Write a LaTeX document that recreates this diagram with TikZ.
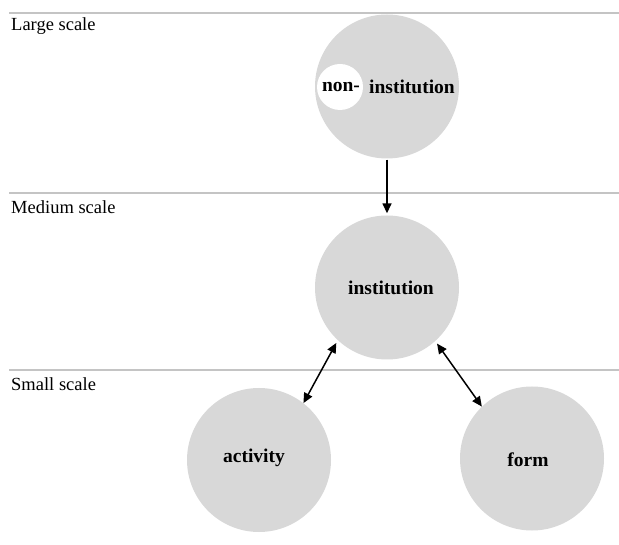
\documentclass[tikz,border=0pt]{standalone}
\usepackage{fontspec}
\setmainfont{Liberation Serif}
\usetikzlibrary{arrows.meta}
\definecolor{circfill}{RGB}{216,216,216}
\definecolor{rulegray}{RGB}{196,196,196}
\tikzset{
  bigcirc/.style={circle, fill=circfill, draw=none, minimum size=144pt, inner sep=0pt},
  holecirc/.style={circle, fill=white, draw=none, minimum size=46pt, inner sep=0pt},
  scalelbl/.style={anchor=west, inner sep=0pt, font=\fontsize{18.5}{21}\selectfont},
  boldlbl/.style={inner sep=0pt, font=\fontsize{19.5}{22}\selectfont\bfseries},
  sep/.style={draw=rulegray, line width=1.5pt},
  conn/.style={line width=1.5pt, -{Triangle[length=10pt,width=9pt]}},
  biconn/.style={line width=1.5pt, {Triangle[length=10pt,width=9pt]}-{Triangle[length=10pt,width=9pt]}}
}
\begin{document}
\begin{tikzpicture}[x=1pt,y=-1pt]
\useasboundingbox (0,0) rectangle (619,545);
% separator lines
\coordinate (l1a) at (9,13);  \coordinate (l1b) at (619,13);
\coordinate (l2a) at (9,193); \coordinate (l2b) at (619,193);
\coordinate (l3a) at (9,370); \coordinate (l3b) at (619,370);
\draw[sep] (l1a) -- (l1b);
\draw[sep] (l2a) -- (l2b);
\draw[sep] (l3a) -- (l3b);
% scale labels
\node[scalelbl] (lg) at (11,26) {Large scale};
\node[scalelbl] (md) at (11,207) {Medium scale};
\node[scalelbl] (sm) at (11,384) {Small scale};
% circles
\node[bigcirc] (top) at (387,86.5) {};
\node[holecirc] (hole) at (340,87) {};
\node[boldlbl] (non) at (341,87) {non-};
\node[boldlbl] (topinst) at (412,87) {institution};
\node[bigcirc] (mid) at (387,287.5) {};
\node[boldlbl] (midinst) at (391,288) {institution};
\node[bigcirc] (act) at (259,460) {};
\node[boldlbl] (acttxt) at (254,458) {activity};
\node[bigcirc] (frm) at (532,458.5) {};
\node[boldlbl] (frmtxt) at (528,460) {form};
% connectors
\draw[conn, shorten <=1pt, shorten >=2pt] (top.south) -- (mid.north);
\draw[biconn, shorten <=3pt] (mid.227) -- (act.52);
\draw[biconn, shorten <=3pt] (mid.312) -- (frm.134);
\end{tikzpicture}
\end{document}
